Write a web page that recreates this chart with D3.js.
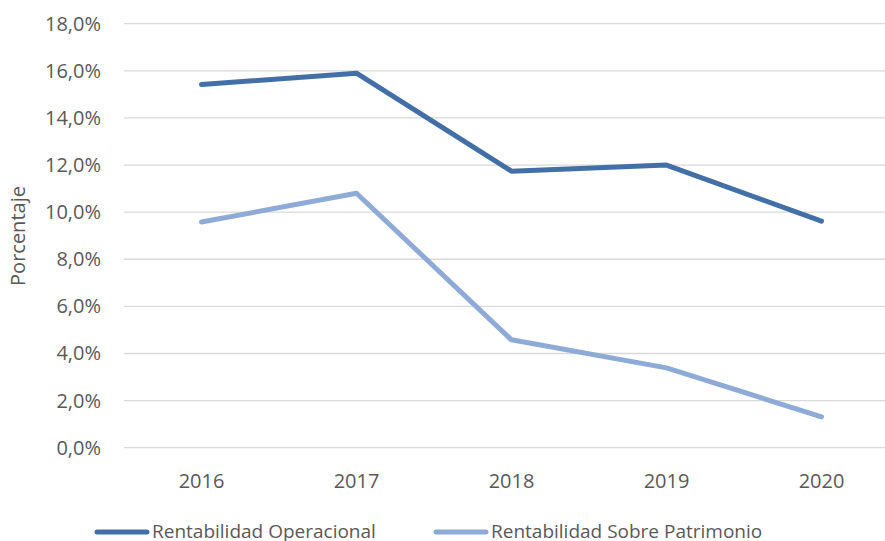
<!DOCTYPE html>
<html>
<head>
<meta charset="utf-8">
<script src="https://cdn.jsdelivr.net/npm/d3@7"></script>
<style>
  body { margin: 0; background: #fff; }
  svg { display: block; font-family: "Open Sans", sans-serif; }
</style>
</head>
<body>
<svg id="chart" width="885" height="541"></svg>
<script>
const years = ["2016", "2017", "2018", "2019", "2020"];
const operacional = [15.42, 15.9, 11.74, 12.0, 9.62];
const patrimonio = [9.58, 10.8, 4.58, 3.39, 1.31];
const yTicks = [0, 2, 4, 6, 8, 10, 12, 14, 16, 18];
const seriesNames = ["Rentabilidad Operacional", "Rentabilidad Sobre Patrimonio"];
const colors = ["#4270a6", "#8eaad6"];

const svg = d3.select("#chart");
const plotLeft = 124, plotRight = 899, plotTop = 23.7, plotBottom = 447.7;

const x = d3.scalePoint().domain(years).range([plotLeft, plotRight]).padding(0.5);
const y = d3.scaleLinear().domain([0, 18]).range([plotBottom, plotTop]);

// gridlines
svg.append("g").selectAll("line")
    .data(yTicks)
    .enter().append("line")
    .attr("x1", plotLeft).attr("x2", 885)
    .attr("y1", d => y(d)).attr("y2", d => y(d))
    .attr("stroke", "#d9d9d9").attr("stroke-width", 1.3);

// y tick labels
const fmt = d => d.toFixed(1).replace(".", ",") + "%";
svg.append("g").selectAll("text")
    .data(yTicks)
    .enter().append("text")
    .attr("x", 101).attr("y", d => y(d))
    .attr("dy", "0.35em")
    .attr("text-anchor", "end")
    .attr("font-size", 20)
    .attr("fill", "#595959")
    .text(fmt);

// x tick labels
svg.append("g").selectAll("text")
    .data(years)
    .enter().append("text")
    .attr("x", d => x(d)).attr("y", 488)
    .attr("text-anchor", "middle")
    .attr("font-size", 20)
    .attr("fill", "#595959")
    .text(d => d);

// axis title
svg.append("text")
    .attr("transform", "translate(25,236) rotate(-90)")
    .attr("text-anchor", "middle")
    .attr("font-size", 20)
    .attr("fill", "#595959")
    .text("Porcentaje");

// lines
const line = d3.line().x((d, i) => x(years[i])).y(d => y(d));
[operacional, patrimonio].forEach((s, i) => {
    svg.append("path")
        .datum(s)
        .attr("d", line)
        .attr("fill", "none")
        .attr("stroke", colors[i])
        .attr("stroke-width", 5)
        .attr("stroke-linecap", "round")
        .attr("stroke-linejoin", "round");
});

// legend
const legendX = [97, 436];
seriesNames.forEach((name, i) => {
    const g = svg.append("g").attr("transform", `translate(${legendX[i]},532)`);
    g.append("line")
        .attr("x1", 0).attr("x2", 50)
        .attr("stroke", colors[i]).attr("stroke-width", 5)
        .attr("stroke-linecap", "round");
    g.append("text")
        .attr("x", 55).attr("dy", "0.33em")
        .attr("font-size", 19)
        .attr("fill", "#595959")
        .text(name);
});
</script>
</body>
</html>
